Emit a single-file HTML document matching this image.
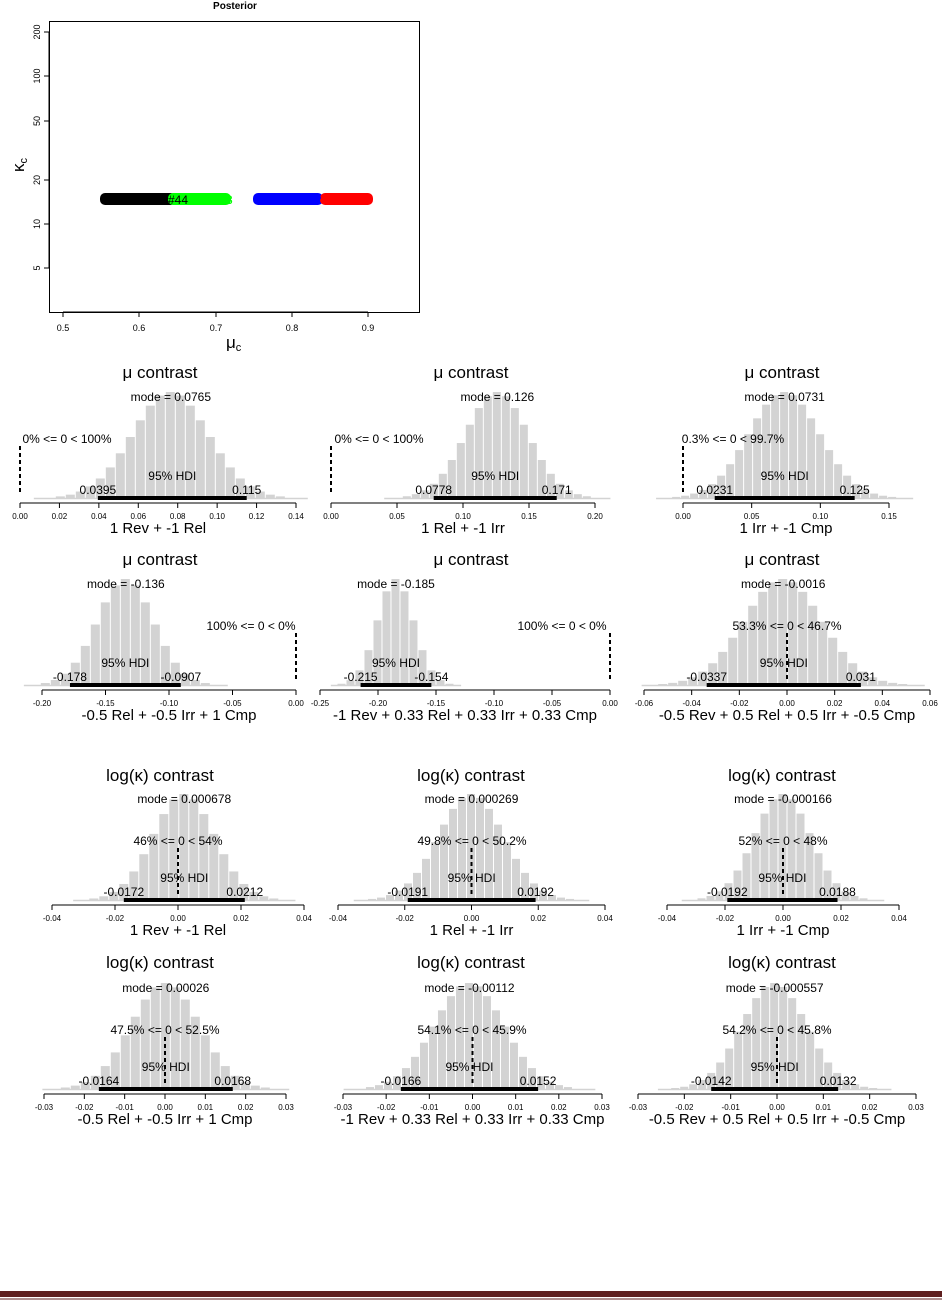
<!DOCTYPE html>
<html><head><meta charset="utf-8"><style>
body{margin:0;background:#fff;width:942px;height:1300px;overflow:hidden}
svg{display:block;font-family:"Liberation Sans",sans-serif}
</style></head><body>
<svg id="s" width="942" height="1300" xmlns="http://www.w3.org/2000/svg">
<text x="235" y="9" font-size="10" font-weight="bold" text-anchor="middle">Posterior</text>
<rect x="49.5" y="21.5" width="370" height="291" fill="none" stroke="#000"/>
<g stroke="#000"><line x1="63" y1="312" x2="368" y2="312"/>
<line x1="63" y1="312" x2="63" y2="317"/><line x1="139" y1="312" x2="139" y2="317"/><line x1="216" y1="312" x2="216" y2="317"/><line x1="292" y1="312" x2="292" y2="317"/><line x1="368" y1="312" x2="368" y2="317"/>
<line x1="49" y1="32" x2="49" y2="268"/>
<line x1="44" y1="32" x2="49" y2="32"/><line x1="44" y1="76" x2="49" y2="76"/><line x1="44" y1="121" x2="49" y2="121"/><line x1="44" y1="180" x2="49" y2="180"/><line x1="44" y1="224" x2="49" y2="224"/><line x1="44" y1="268" x2="49" y2="268"/></g>
<g font-size="9" text-anchor="middle"><text x="63" y="331">0.5</text><text x="139" y="331">0.6</text><text x="216" y="331">0.7</text><text x="292" y="331">0.8</text><text x="368" y="331">0.9</text></g>
<g font-size="9" text-anchor="middle">
<text transform="translate(40,32) rotate(-90)">200</text><text transform="translate(40,76) rotate(-90)">100</text><text transform="translate(40,121) rotate(-90)">50</text><text transform="translate(40,180) rotate(-90)">20</text><text transform="translate(40,224) rotate(-90)">10</text><text transform="translate(40,268) rotate(-90)">5</text></g>
<text transform="translate(24,172) rotate(-90)" font-size="17">κ<tspan font-size="11" dy="3">c</tspan></text>
<text x="226" y="348" font-size="17">μ<tspan font-size="11" dy="3">c</tspan></text>
<rect x="100" y="193" width="76" height="12" rx="5" fill="#000"/>
<rect x="168" y="193" width="63" height="12" rx="5" fill="#00ff00"/>
<text x="168" y="204" font-size="12">#44</text><text x="226" y="204" font-size="12" fill="#00ff00">3</text>
<rect x="253" y="193" width="70" height="12" rx="5" fill="#0000ff"/>
<rect x="320" y="193" width="53" height="12" rx="5" fill="#ff0000"/>
<text x="315" y="204" font-size="12" fill="#0000ff">2</text>
<rect x="0" y="1291" width="942" height="6" fill="#5e1f1f"/>
<rect x="0" y="1298.5" width="942" height="1" fill="#5e1f1f"/>
<g id="g"></g>
</svg>
<script>
var P=[
[0,20,296,0,0.14,[0,.02,.04,.06,.08,.10,.12,.14],2,.0765,.0193,.0395,.115,"0.0765","0% <= 0 < 100%",67,"μ contrast","1 Rev + -1 Rel",10],
[0,331,595,0,0.2,[0,.05,.10,.15,.20],2,.126,.0238,.0778,.171,"0.126","0% <= 0 < 100%",379,"μ contrast","1 Rel + -1 Irr",9],
[0,683,889,0,0.15,[0,.05,.10,.15],2,.074,.026,.0231,.125,"0.0731","0.3% <= 0 < 99.7%",733,"μ contrast","1 Irr + -1 Cmp",9],
[1,42,296,-0.2,0,[-.2,-.15,-.1,-.05,0],2,-.134,.0223,-.178,-.0907,"-0.136","100% <= 0 < 0%",251,"μ contrast","-0.5 Rel + -0.5 Irr + 1 Cmp",10],
[1,320,610,-0.25,0,[-.25,-.2,-.15,-.1,-.05,0],2,-.1845,.0156,-.215,-.154,"-0.185","100% <= 0 < 0%",562,"μ contrast","-1 Rev + 0.33 Rel + 0.33 Irr + 0.33 Cmp",9],
[1,644,930,-0.06,0.06,[-.06,-.04,-.02,0,.02,.04,.06],2,-.0016,.0165,-.0337,.031,"-0.0016","53.3% <= 0 < 46.7%",787,"μ contrast","-0.5 Rev + 0.5 Rel + 0.5 Irr + -0.5 Cmp",10],
[2,52,304,-0.04,0.04,[-.04,-.02,0,.02,.04],2,.002,.0098,-.0172,.0212,"0.000678","46% <= 0 < 54%",178,"log(κ) contrast","1 Rev + -1 Rel",10],
[2,338,605,-0.04,0.04,[-.04,-.02,0,.02,.04],2,0,.0098,-.0191,.0192,"0.000269","49.8% <= 0 < 50.2%",472,"log(κ) contrast","1 Rel + -1 Irr",9],
[2,667,899,-0.04,0.04,[-.04,-.02,0,.02,.04],2,0,.0097,-.0192,.0188,"-0.000166","52% <= 0 < 48%",783,"log(κ) contrast","1 Irr + -1 Cmp",9],
[3,44,286,-0.03,0.03,[-.03,-.02,-.01,0,.01,.02,.03],2,.0002,.0085,-.0164,.0168,"0.00026","47.5% <= 0 < 52.5%",165,"log(κ) contrast","-0.5 Rel + -0.5 Irr + 1 Cmp",10],
[3,343,602,-0.03,0.03,[-.03,-.02,-.01,0,.01,.02,.03],2,-.0007,.0081,-.0166,.0152,"-0.00112","54.1% <= 0 < 45.9%",472,"log(κ) contrast","-1 Rev + 0.33 Rel + 0.33 Irr + 0.33 Cmp",9],
[3,638,916,-0.03,0.03,[-.03,-.02,-.01,0,.01,.02,.03],2,-.0005,.007,-.0142,.0132,"-0.000557","54.2% <= 0 < 45.8%",777,"log(κ) contrast","-0.5 Rev + 0.5 Rel + 0.5 Irr + -0.5 Cmp",9]];
var AX=[503,690,905,1094],TT=[378,565,781,968],TX=[160,471,782];
var h="";
function fx(p,v){return p[1]+(v-p[3])/(p[4]-p[3])*(p[2]-p[1]);}
P.forEach(function(p,k){
 var ay=AX[p[0]],b=ay-5,cx=(p[1]+p[2])/2;
 var m=p[7],sd=p[8],bw=p[16];
 var mx=fx(p,m),spx=sd/(p[4]-p[3])*(p[2]-p[1]);
 h+='<line x1="'+(mx-3.6*spx)+'" y1="'+(b+0.5)+'" x2="'+(mx+3.6*spx)+'" y2="'+(b+0.5)+'" stroke="#d3d3d3" stroke-width="1.5"/>';
 var n=Math.ceil(3.3*spx/bw);
 for(var i=-n;i<=n;i++){var c=mx+i*bw,z=(c-mx)/spx,hh=106*Math.exp(-z*z/2);if(hh<1)continue;
  h+='<rect x="'+(c-bw/2)+'" y="'+(b-hh)+'" width="'+(bw-1)+'" height="'+hh+'" fill="#d3d3d3"/>';}
 h+='<line x1="'+p[1]+'" y1="'+ay+'" x2="'+p[2]+'" y2="'+ay+'" stroke="#000"/>';
 p[5].forEach(function(t){var tx=fx(p,t);h+='<line x1="'+tx+'" y1="'+ay+'" x2="'+tx+'" y2="'+(ay+5)+'" stroke="#000"/>';
  h+='<text x="'+tx+'" y="'+(ay+16)+'" font-size="8" text-anchor="middle">'+t.toFixed(2)+'</text>';});
 var hl=fx(p,p[9]),hr=fx(p,p[10]);
 h+='<rect x="'+hl+'" y="'+(b-2)+'" width="'+(hr-hl)+'" height="4" fill="#000"/>';
 h+='<text x="'+((hl+hr)/2)+'" y="'+(b-18)+'" font-size="12" text-anchor="middle">95% HDI</text>';
 h+='<text x="'+hl+'" y="'+(b-4)+'" font-size="12" text-anchor="middle">'+p[9]+'</text>';
 h+='<text x="'+hr+'" y="'+(b-4)+'" font-size="12" text-anchor="middle">'+p[10]+'</text>';
 var zx=fx(p,0);h+='<line x1="'+zx+'" y1="'+(b-52)+'" x2="'+zx+'" y2="'+(b-5)+'" stroke="#000" stroke-width="2" stroke-dasharray="4,3"/>';
 h+='<text x="'+p[13]+'" y="'+(b-55)+'" font-size="12" text-anchor="middle">'+p[12]+'</text>';
 h+='<text x="'+mx+'" y="'+(b-97)+'" font-size="12" text-anchor="middle">mode = '+p[11]+'</text>';
 h+='<text x="'+TX[k%3]+'" y="'+TT[p[0]]+'" font-size="17" text-anchor="middle">'+p[14]+'</text>';
 h+='<text x="'+cx+'" y="'+(ay+30)+'" font-size="15" text-anchor="middle">'+p[15]+'</text>';
});
document.getElementById("g").innerHTML=h;
</script>
</body></html>
